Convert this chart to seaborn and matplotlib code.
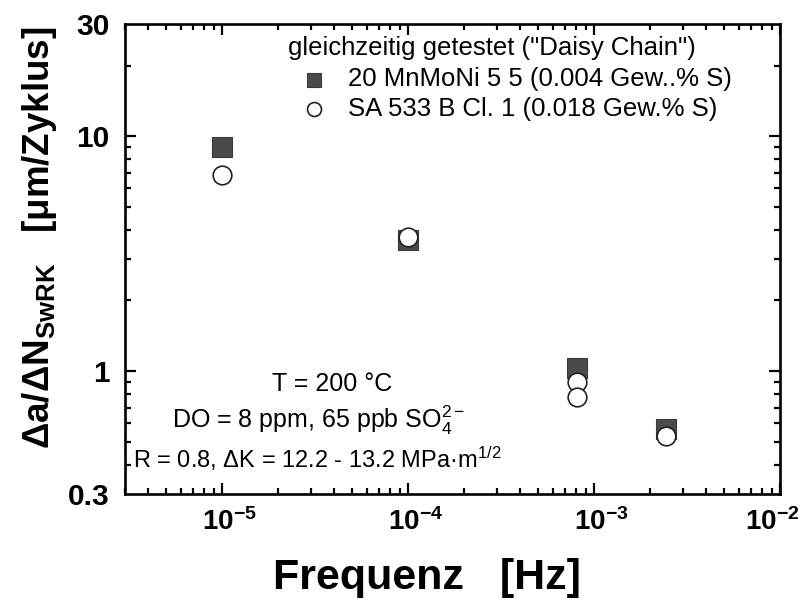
import numpy as np
import pandas as pd
import matplotlib
matplotlib.use("Agg")
import matplotlib.pyplot as plt
import matplotlib.transforms as mtrans
from matplotlib.ticker import FixedLocator, FixedFormatter, LogLocator, NullFormatter
import seaborn as sns

# ---- data ----
freq_a = [1e-5, 1e-4, 8.1e-4, 2.44e-3]
rate_a = [9.0, 3.62, 1.03, 0.57]
freq_b = [1e-5, 1e-4, 8.1e-4, 8.1e-4, 2.44e-3]
rate_b = [6.85, 3.73, 0.90, 0.78, 0.53]
label_a = "20 MnMoNi 5 5 (0.004 Gew..% S)"
label_b = "SA 533 B Cl. 1 (0.018 Gew.% S)"
legend_title = 'gleichzeitig getestet ("Daisy Chain")'
xticks = [1e-5, 1e-4, 1e-3, 1e-2]
xtick_labels = [r"$\mathbf{10^{-5}}$", r"$\mathbf{10^{-4}}$", r"$\mathbf{10^{-3}}$", r"$\mathbf{10^{-2}}$"]
yticks = [0.3, 1, 10, 30]
ytick_labels = ["0.3", "1", "10", "30"]

sns.set_theme(style="ticks")
plt.rcParams["font.family"] = ["Liberation Sans", "DejaVu Sans"]
plt.rcParams["mathtext.fontset"] = "custom"
plt.rcParams["mathtext.rm"] = "Liberation Sans"
plt.rcParams["mathtext.it"] = "Liberation Sans:italic"
plt.rcParams["mathtext.bf"] = "Liberation Sans:bold"
for key in ["text.color", "axes.labelcolor", "xtick.color", "ytick.color", "axes.edgecolor"]:
    plt.rcParams[key] = "black"

df_a = pd.DataFrame({"f": freq_a, "r": rate_a})
df_b = pd.DataFrame({"f": freq_b, "r": rate_b})

fig = plt.figure(figsize=(8.01, 6.04), dpi=100)
ax = fig.add_axes([0.156, 0.182, 0.818, 0.778])

sns.scatterplot(data=df_a, x="f", y="r", marker="s", s=200, color="#4a4a4a",
                edgecolor="#3a3a3a", linewidth=0.8, label=label_a, ax=ax, zorder=3)
sns.scatterplot(data=df_b, x="f", y="r", marker="o", s=180, color="white",
                edgecolor="#222222", linewidth=1.2, label=label_b, ax=ax, zorder=4)

ax.set_xscale("log")
ax.set_yscale("log")
ax.set_xlim(3e-6, 1e-2)
ax.set_ylim(0.3, 30)

ax.xaxis.set_major_locator(FixedLocator(xticks))
ax.xaxis.set_major_formatter(FixedFormatter(xtick_labels))
ax.xaxis.set_minor_locator(LogLocator(base=10, subs=np.arange(2, 10)))
ax.xaxis.set_minor_formatter(NullFormatter())
ax.set_yticks(yticks)
ax.set_yticklabels(ytick_labels)
ax.yaxis.set_minor_locator(LogLocator(base=10, subs=np.arange(2, 10)))
ax.yaxis.set_minor_formatter(NullFormatter())

for sp in ax.spines.values():
    sp.set_linewidth(1.9)
    sp.set_color("black")
ax.tick_params(which="both", direction="in", top=True, right=True, width=1.6, color="black",
               labelcolor="black")
ax.tick_params(which="major", length=8)
ax.tick_params(which="minor", length=4)
ax.tick_params(axis="y", which="major", labelsize=21.5, pad=11)
ax.tick_params(axis="x", which="major", labelsize=20, pad=10)
for t in ax.get_yticklabels():
    t.set_fontweight("bold")
for tk in ax.yaxis.get_major_ticks():
    if tk.get_loc() in (0.3, 30):
        tk.tick1line.set_visible(False)
        tk.tick2line.set_visible(False)

# shift x tick labels slightly as in the reference
xlabels = ax.get_xticklabels()
for i, t in enumerate(xlabels):
    dx = 5 / 72 if i < len(xlabels) - 1 else -6 / 72
    t.set_transform(t.get_transform() + mtrans.ScaledTranslation(dx, 0, fig.dpi_scale_trans))

ax.set_xlabel("Frequenz   [Hz]", fontsize=31, fontweight="bold", color="black")
ax.xaxis.label.set_va("center")
ax.xaxis.set_label_coords(0.461, -0.179)
ax.set_ylabel(r"$\mathbf{\Delta a/\Delta N_{SwRK}}$   [μm/Zyklus]", fontsize=26.5,
              fontweight="bold", color="black")
ax.yaxis.label.set_va("center")
ax.yaxis.set_label_coords(-0.13, 0.545)

leg = ax.legend(title=legend_title, loc="upper left", bbox_to_anchor=(0.249, 0.974),
                frameon=False, fontsize=18.5, title_fontsize=18.5, handletextpad=0.35,
                labelspacing=0.23, borderpad=0.0, markerscale=0.75, borderaxespad=0.0,
                labelcolor="black")
leg._legend_box.align = "left"
leg._legend_box.sep = 5
leg.get_title().set_color("black")

ax.text(0.316, 0.219, "T = 200 °C", transform=ax.transAxes, ha="center", va="baseline", fontsize=18)
ax.text(0.295, 0.140, r"DO = 8 ppm, 65 ppb SO$_4^{2-}$", transform=ax.transAxes,
        ha="center", va="baseline", fontsize=18)
ax.text(0.294, 0.055, r"R = 0.8, ΔK = 12.2 - 13.2 MPa·m$^{1/2}$", transform=ax.transAxes,
        ha="center", va="baseline", fontsize=17)

fig.savefig("out.png", dpi=100)
